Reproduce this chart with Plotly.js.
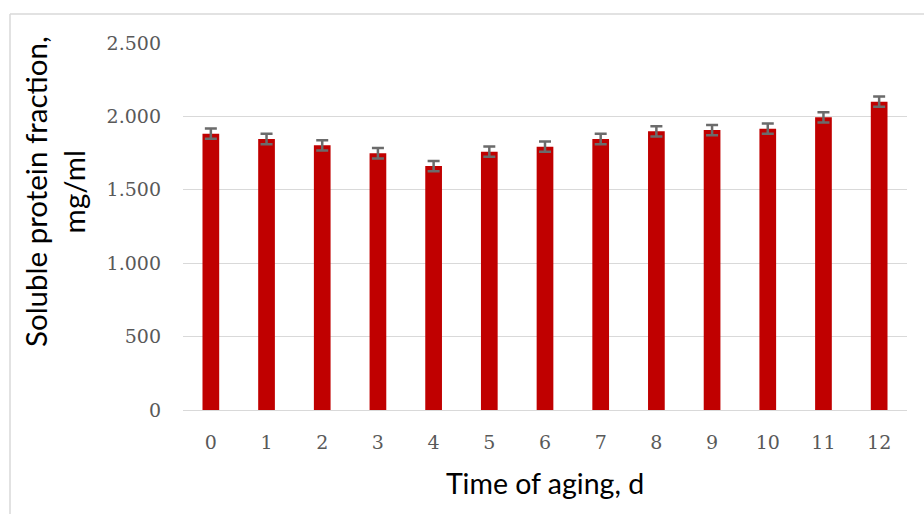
<!DOCTYPE html>
<html>
<head>
<meta charset="utf-8">
<script src="https://cdn.plot.ly/plotly-3.0.1.min.js"></script>
<style>
html,body{margin:0;padding:0;background:#fff;}
#chart{width:924px;height:514px;}
</style>
</head>
<body>
<div id="chart"></div>
<script>
const days = ['0','1','2','3','4','5','6','7','8','9','10','11','12'];
const proteinValues = [1882, 1846, 1803, 1749, 1662, 1760, 1794, 1846, 1898, 1907, 1916, 1994, 2100];
const proteinErrors = [35, 35, 35, 35, 35, 35, 35, 35, 35, 35, 35, 35, 35];
const yTickValues = [0, 500, 1000, 1500, 2000, 2500];
const yTickLabels = ['0', '500', '1.000', '1.500', '2.000', '2.500'];

const trace = {
  type: 'bar',
  x: days,
  y: proteinValues,
  width: 0.3,
  marker: {color: '#c00000', line: {width: 0}},
  error_y: {type: 'data', array: proteinErrors, visible: true, color: '#6b6b6b', thickness: 2.5, width: 6},
  hoverinfo: 'x+y'
};

const tickFont = {family: 'DejaVu Serif', size: 19, color: '#595959'};
const titleFont = {family: 'Lato', size: 28.5, color: '#000000'};
const yTitleFont = {family: 'Lato', size: 29.5, color: '#000000'};

const layout = {
  width: 924, height: 514,
  margin: {l: 183, r: 17, t: 43, b: 104},
  paper_bgcolor: '#ffffff', plot_bgcolor: '#ffffff',
  showlegend: false,
  bargap: 0.7,
  xaxis: {
    type: 'category',
    tickfont: tickFont,
    showgrid: false,
    showline: true, linecolor: '#d9d9d9', linewidth: 1,
    ticks: '', ticklabelstandoff: 15,
    zeroline: false,
    automargin: false,
    title: {text: 'Time of aging, d', font: titleFont, standoff: 22}
  },
  yaxis: {
    range: [0, 2500],
    tickvals: yTickValues,
    ticktext: yTickLabels,
    tickfont: tickFont,
    showgrid: true, gridcolor: '#d9d9d9', gridwidth: 1,
    zeroline: false, showline: false,
    ticks: '', ticklabelstandoff: 21,
    automargin: false
  },
  annotations: [{
    text: 'Soluble protein fraction,<br>mg/ml',
    xref: 'paper', yref: 'paper',
    x: (54 - 183) / 724, y: (410 - 192) / 367,
    xanchor: 'center', yanchor: 'middle',
    textangle: -90, showarrow: false,
    font: yTitleFont
  }],
  shapes: [
    {type: 'line', xref: 'paper', yref: 'paper', x0: (10 - 183) / 724, x1: (924 - 183) / 724, y0: (410 - 14) / 367, y1: (410 - 14) / 367, line: {color: '#d9d9d9', width: 1.5}},
    {type: 'line', xref: 'paper', yref: 'paper', x0: (10 - 183) / 724, x1: (10 - 183) / 724, y0: (410 - 14) / 367, y1: (410 - 514) / 367, line: {color: '#d9d9d9', width: 1.5}}
  ]
};

Plotly.newPlot('chart', [trace], layout, {displayModeBar: false, staticPlot: true});
</script>
</body>
</html>
